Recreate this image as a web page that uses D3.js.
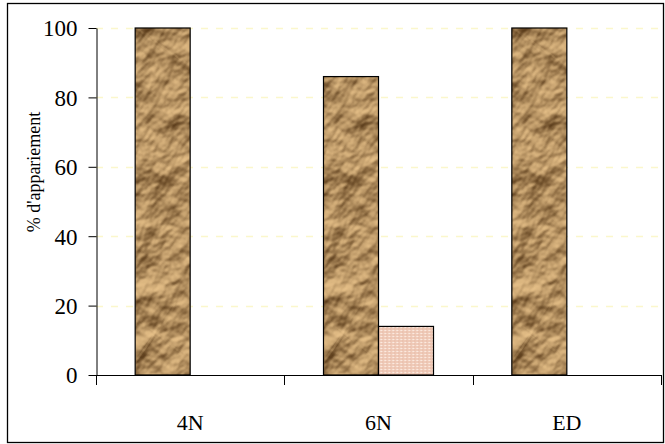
<!DOCTYPE html>
<html>
<head>
<meta charset="utf-8">
<script src="https://cdn.jsdelivr.net/npm/d3@7"></script>
<style>
  html, body { margin: 0; padding: 0; background: #fff; }
  svg { display: block; }
  svg text { font-family: 'Liberation Serif', 'Times New Roman', 'DejaVu Serif', serif; }
</style>
</head>
<body>
<svg id="chart" width="665" height="444"></svg>
<script>
// Pairing rate per karyotype
const categories = ["4N", "6N", "ED"];
const seriesNames = ["apparies", "non apparies"];
const pairedValues = [100, 86, 100];
const unpairedValues = [0, 14, 0];
const yTickValues = [0, 20, 40, 60, 80, 100];
const yTitle = "% d'appariement";

const SERIF = "'Liberation Serif', 'Times New Roman', 'DejaVu Serif', serif";

const svg = d3.select("#chart");
const W = 665, H = 444;
const plot = { left: 96, right: 661, top: 28, bottom: 375 };

const defs = svg.append("defs");

// Crumpled kraft-paper texture: turbulence lit as a relief, tinted brown
const paperFilter = defs.append("filter")
  .attr("id", "crumple")
  .attr("x", 0).attr("y", 0).attr("width", 1).attr("height", 1)
  .attr("filterUnits", "objectBoundingBox")
  .attr("color-interpolation-filters", "sRGB");
paperFilter.append("feTurbulence")
  .attr("type", "fractalNoise")
  .attr("baseFrequency", "0.032 0.024")
  .attr("numOctaves", 4)
  .attr("seed", 11)
  .attr("stitchTiles", "stitch")
  .attr("result", "noise");
const light = paperFilter.append("feDiffuseLighting")
  .attr("in", "noise")
  .attr("surfaceScale", 8)
  .attr("diffuseConstant", 1.0)
  .attr("lighting-color", "#ffffff")
  .attr("result", "lit");
light.append("feDistantLight").attr("azimuth", 225).attr("elevation", 40);
paperFilter.append("feColorMatrix")
  .attr("in", "lit")
  .attr("type", "matrix")
  .attr("values", "0.56 0 0 0 0.35  0.53 0 0 0 0.23  0.44 0 0 0 0.10  0 0 0 0 1");

const paper = defs.append("pattern")
  .attr("id", "paper")
  .attr("patternUnits", "userSpaceOnUse")
  .attr("width", 240).attr("height", 240)
  .attr("patternTransform", "rotate(35)");
paper.append("rect")
  .attr("width", 240).attr("height", 240)
  .attr("fill", "#b08558")
  .attr("filter", "url(#crumple)");

// Fine pink dotted fill for the second series
const dots = defs.append("pattern")
  .attr("id", "dots")
  .attr("patternUnits", "userSpaceOnUse")
  .attr("width", 4).attr("height", 3);
dots.append("rect").attr("width", 4).attr("height", 3).attr("fill", "#efcab8");
dots.append("rect").attr("x", 0).attr("y", 0).attr("width", 2).attr("height", 1).attr("fill", "#fbe9df");
dots.append("rect").attr("x", 2).attr("y", 1.5).attr("width", 1).attr("height", 1).attr("fill", "#e4b29c");

// Outer frame
svg.append("rect")
  .attr("x", 7.5).attr("y", 3.5)
  .attr("width", W - 9).attr("height", H - 5)
  .attr("fill", "none")
  .attr("stroke", "#000")
  .attr("stroke-width", 1.3);

const y = d3.scaleLinear().domain([0, 100]).range([plot.bottom, plot.top]);
const x0 = d3.scaleBand().domain(categories).range([plot.left, plot.right]).padding(0);
const x1 = d3.scaleBand().domain(seriesNames).range([0, x0.bandwidth()])
  .paddingInner(0).paddingOuter(0.712);

// Horizontal gridlines
svg.append("g")
  .selectAll("line")
  .data(yTickValues.filter(d => d > 0))
  .join("line")
  .attr("x1", plot.left).attr("x2", plot.right)
  .attr("y1", d => Math.round(y(d)) + 0.5)
  .attr("y2", d => Math.round(y(d)) + 0.5)
  .attr("stroke", "#fbf7cc")
  .attr("stroke-width", 1.5)
  .attr("stroke-dasharray", "7 8");

// Bars
const rows = categories.map((c, i) => ({
  cat: c,
  vals: [
    { s: seriesNames[0], v: pairedValues[i] },
    { s: seriesNames[1], v: unpairedValues[i] }
  ]
}));

const groups = svg.append("g").selectAll("g")
  .data(rows)
  .join("g")
  .attr("transform", d => `translate(${x0(d.cat)},0)`);

groups.selectAll("rect")
  .data(d => d.vals.filter(e => e.v > 0))
  .join("rect")
  .attr("x", d => x1(d.s))
  .attr("y", d => y(d.v))
  .attr("width", x1.bandwidth())
  .attr("height", d => y(0) - y(d.v))
  .attr("fill", d => d.s === seriesNames[0] ? "url(#paper)" : "url(#dots)")
  .attr("stroke", "#000")
  .attr("stroke-width", 1.2);

// Y axis
const yAxis = d3.axisLeft(y)
  .tickValues(yTickValues)
  .tickSize(8)
  .tickSizeOuter(0)
  .tickPadding(11)
  .tickFormat(d3.format("d"));
const yg = svg.append("g")
  .attr("transform", `translate(${plot.left + 0.5},0)`)
  .call(yAxis);
yg.attr("font-family", null).attr("font-size", null);
yg.select(".domain").attr("stroke", "#000");
yg.selectAll(".tick line").attr("stroke", "#000");
yg.selectAll(".tick text")
  .attr("fill", "#000")
  .style("font-family", SERIF)
  .style("font-size", "23px")
  .attr("dy", "0.34em");

// X axis: baseline, boundary ticks and category labels
const xg = svg.append("g");
xg.append("line")
  .attr("x1", plot.left).attr("x2", plot.right + 0.5)
  .attr("y1", plot.bottom + 0.5).attr("y2", plot.bottom + 0.5)
  .attr("stroke", "#000");
const edges = [plot.left].concat(categories.map(c => x0(c) + x0.bandwidth()));
xg.selectAll("line.edge")
  .data(edges)
  .join("line")
  .attr("class", "edge")
  .attr("x1", d => Math.round(d) + 0.5).attr("x2", d => Math.round(d) + 0.5)
  .attr("y1", plot.bottom).attr("y2", plot.bottom + 10)
  .attr("stroke", "#000");
xg.selectAll("text")
  .data(categories)
  .join("text")
  .attr("x", d => x0(d) + x0.bandwidth() / 2)
  .attr("y", 430)
  .attr("text-anchor", "middle")
  .style("font-family", SERIF)
  .style("font-size", "22px")
  .attr("fill", "#000")
  .text(d => d);

// Y axis title
svg.append("text")
  .attr("transform", "translate(40,172) rotate(-90)")
  .attr("text-anchor", "middle")
  .style("font-family", SERIF)
  .style("font-size", "18px")
  .attr("fill", "#000")
  .text(yTitle);
</script>
</body>
</html>
